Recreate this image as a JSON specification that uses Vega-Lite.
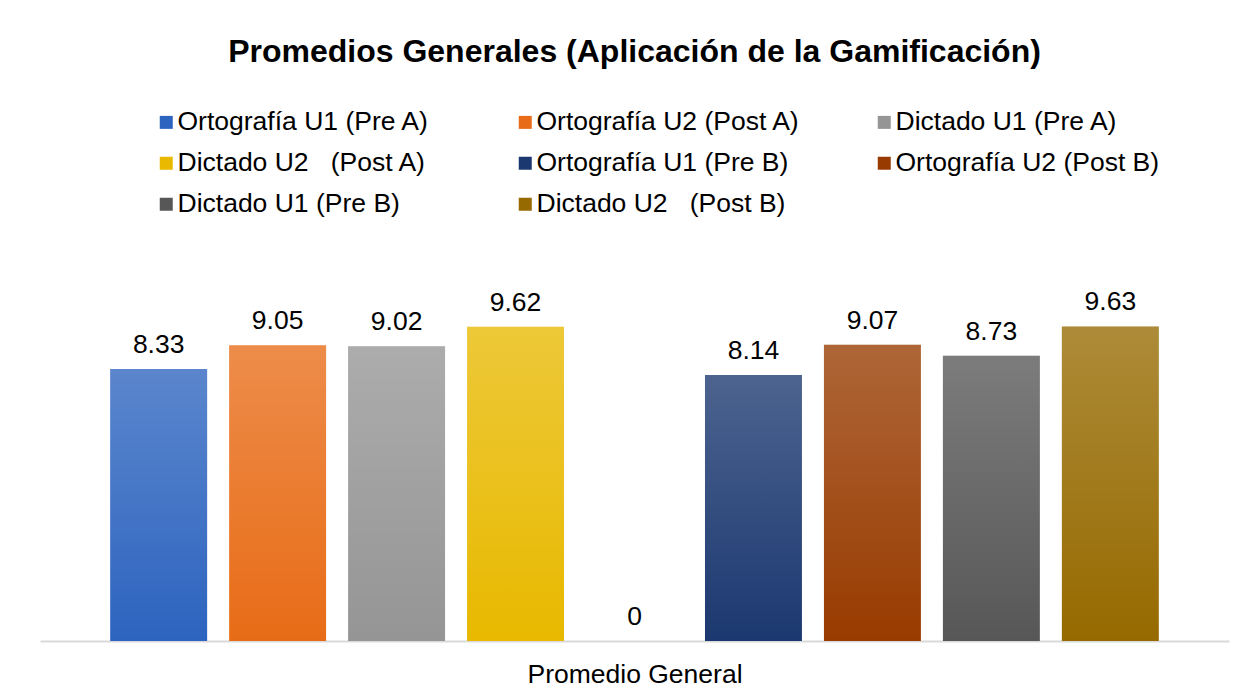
{
  "$schema": "https://vega.github.io/schema/vega-lite/v6.json",
  "width": 1189,
  "height": 392,
  "autosize": {"type": "none"},
  "padding": {"left": 40, "top": 249, "right": 17, "bottom": 58},
  "background": "white",
  "title": {
    "text": "Promedios Generales (Aplicación de la Gamificación)",
    "font": "Liberation Sans",
    "fontSize": 32,
    "fontWeight": "bold",
    "color": "#000000",
    "anchor": "middle",
    "offset": 40
  },
  "data": {
    "values": [
      {"serie": "Ortografía U1 (Pre A)", "valor": 8.33, "tipo": "serie"},
      {"serie": "Ortografía U2 (Post A)", "valor": 9.05, "tipo": "serie"},
      {"serie": "Dictado U1 (Pre A)", "valor": 9.02, "tipo": "serie"},
      {"serie": "Dictado U2 \u00a0 (Post A)", "valor": 9.62, "tipo": "serie"},
      {"serie": "(vacío)", "valor": 0, "tipo": "vacio"},
      {"serie": "Ortografía U1 (Pre B)", "valor": 8.14, "tipo": "serie"},
      {"serie": "Ortografía U2 (Post B)", "valor": 9.07, "tipo": "serie"},
      {"serie": "Dictado U1 (Pre B)", "valor": 8.73, "tipo": "serie"},
      {"serie": "Dictado U2 \u00a0 (Post B)", "valor": 9.63, "tipo": "serie"}
    ]
  },
  "encoding": {
    "x": {
      "field": "serie",
      "type": "nominal",
      "sort": null,
      "scale": {
        "domain": ["Ortografía U1 (Pre A)", "Ortografía U2 (Post A)", "Dictado U1 (Pre A)", "Dictado U2 \u00a0 (Post A)", "(vacío)", "Ortografía U1 (Pre B)", "Ortografía U2 (Post B)", "Dictado U1 (Pre B)", "Dictado U2 \u00a0 (Post B)"],
        "paddingInner": 0.185,
        "paddingOuter": 0.59
      },
      "axis": {
        "title": "Promedio General",
        "labels": false,
        "ticks": false,
        "domainColor": "#d9d9d9",
        "domainWidth": 2,
        "titleFont": "Liberation Sans",
        "titleFontSize": 26.5,
        "titleFontWeight": "normal",
        "titleColor": "#000000",
        "titleBaseline": "alphabetic",
        "titlePadding": 41
      }
    },
    "y": {
      "field": "valor",
      "type": "quantitative",
      "scale": {"domain": [0, 12]},
      "axis": null
    }
  },
  "layer": [
    {
      "transform": [{"filter": "datum.tipo == 'serie'"}],
      "mark": {"type": "bar"},
      "encoding": {
        "color": {
          "field": "serie",
          "type": "nominal",
          "scale": {
            "domain": ["Ortografía U1 (Pre A)", "Ortografía U2 (Post A)", "Dictado U1 (Pre A)", "Dictado U2 \u00a0 (Post A)", "Ortografía U1 (Pre B)", "Ortografía U2 (Post B)", "Dictado U1 (Pre B)", "Dictado U2 \u00a0 (Post B)"],
            "range": ["#2d64bf", "#e86c17", "#959595", "#e8b900", "#1b3870", "#983b00", "#575757", "#966a00"]
          },
          "legend": {
            "title": null,
            "orient": "none",
            "direction": "horizontal",
            "legendX": 113,
            "legendY": -140,
            "columns": 3,
            "gridAlign": "all",
            "columnPadding": 70,
            "rowPadding": 14,
            "padding": 0,
            "symbolType": "square",
            "symbolSize": 169,
            "symbolStrokeWidth": 0,
            "labelOffset": -2,
            "labelFont": "Liberation Sans",
            "labelFontSize": 26.5,
            "labelColor": "#000000",
            "labelLimit": 400
          }
        }
      }
    },
    {
      "transform": [{"filter": "datum.tipo == 'serie'"}],
      "mark": {
        "type": "bar",
        "fill": {
          "gradient": "linear",
          "x1": 0, "y1": 0, "x2": 0, "y2": 1,
          "stops": [
            {"offset": 0, "color": "rgba(255,255,255,0.22)"},
            {"offset": 1, "color": "rgba(255,255,255,0)"}
          ]
        }
      }
    },
    {
      "mark": {
        "type": "text",
        "baseline": "alphabetic",
        "dy": -16,
        "font": "Liberation Sans",
        "fontSize": 26.5,
        "color": "#000000"
      },
      "encoding": {
        "text": {"field": "valor", "type": "quantitative", "format": ".2~f"}
      }
    }
  ],
  "config": {"view": {"stroke": null}}
}
